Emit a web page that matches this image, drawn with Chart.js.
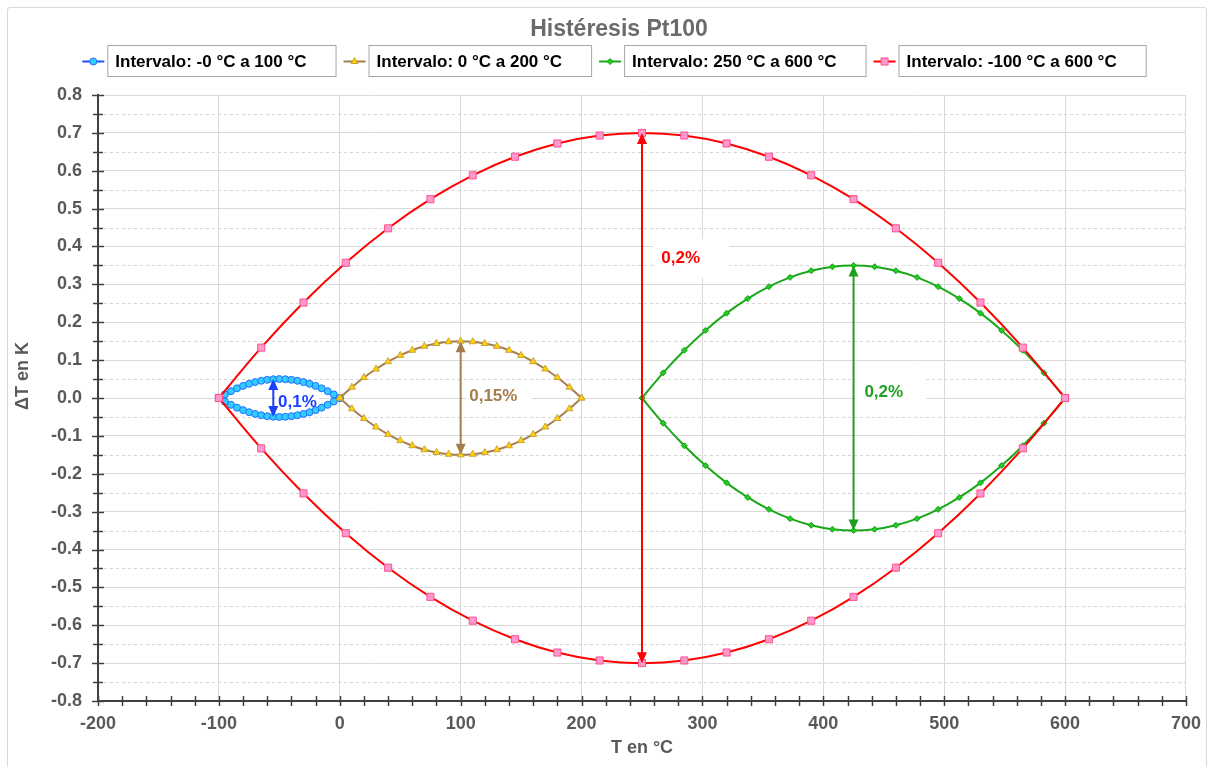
<!DOCTYPE html>
<html>
<head>
<meta charset="utf-8">
<title>Histéresis Pt100</title>
<script src="https://cdn.jsdelivr.net/npm/chart.js@4.4.1/dist/chart.umd.min.js"></script>
<style>
  html, body { margin: 0; padding: 0; background: #fff; overflow: hidden; }
  #frame { position: absolute; left: 7px; top: 7px; width: 1198px; height: 800px; border: 1px solid #d9d9d9; border-radius: 3px; }
  #chart { position: absolute; left: 0; top: 0; }
</style>
</head>
<body>
<div id="frame"></div>
<canvas id="chart" width="1213" height="767"></canvas>
<script>

//////////////////////Data////////////////
var xBlue = [-100, -95, -90, -85, -80, -75, -70, -65, -60, -55, -50, -45, -40, -35, -30, -25, -20, -15, -10, -5, 0];
var yBlueUpper = [0, 0.0095, 0.018, 0.0255, 0.032, 0.0375, 0.042, 0.0455, 0.048, 0.0495, 0.05, 0.0495, 0.048, 0.0455, 0.042, 0.0375, 0.032, 0.0255, 0.018, 0.0095, 0];
var yBlueLower = [0, -0.0095, -0.018, -0.0255, -0.032, -0.0375, -0.042, -0.0455, -0.048, -0.0495, -0.05, -0.0495, -0.048, -0.0455, -0.042, -0.0375, -0.032, -0.0255, -0.018, -0.0095, 0];

var xBrown = [0, 10, 20, 30, 40, 50, 60, 70, 80, 90, 100, 110, 120, 130, 140, 150, 160, 170, 180, 190, 200];
var yBrownUpper = [0, 0.0285, 0.054, 0.0765, 0.096, 0.1125, 0.126, 0.1365, 0.144, 0.1485, 0.15, 0.1485, 0.144, 0.1365, 0.126, 0.1125, 0.096, 0.0765, 0.054, 0.0285, 0];
var yBrownLower = [0, -0.0285, -0.054, -0.0765, -0.096, -0.1125, -0.126, -0.1365, -0.144, -0.1485, -0.15, -0.1485, -0.144, -0.1365, -0.126, -0.1125, -0.096, -0.0765, -0.054, -0.0285, 0];

var xGreen = [250, 267.5, 285, 302.5, 320, 337.5, 355, 372.5, 390, 407.5, 425, 442.5, 460, 477.5, 495, 512.5, 530, 547.5, 565, 582.5, 600];
var yGreenUpper = [0, 0.0665, 0.126, 0.1785, 0.224, 0.2625, 0.294, 0.3185, 0.336, 0.3465, 0.35, 0.3465, 0.336, 0.3185, 0.294, 0.2625, 0.224, 0.1785, 0.126, 0.0665, 0];
var yGreenLower = [0, -0.0665, -0.126, -0.1785, -0.224, -0.2625, -0.294, -0.3185, -0.336, -0.3465, -0.35, -0.3465, -0.336, -0.3185, -0.294, -0.2625, -0.224, -0.1785, -0.126, -0.0665, 0];

var xRed = [-100, -65, -30, 5, 40, 75, 110, 145, 180, 215, 250, 285, 320, 355, 390, 425, 460, 495, 530, 565, 600];
var yRedUpper = [0, 0.133, 0.252, 0.357, 0.448, 0.525, 0.588, 0.637, 0.672, 0.693, 0.70, 0.693, 0.672, 0.637, 0.588, 0.525, 0.448, 0.357, 0.252, 0.133, 0];
var yRedLower = [0, -0.133, -0.252, -0.357, -0.448, -0.525, -0.588, -0.637, -0.672, -0.693, -0.70, -0.693, -0.672, -0.637, -0.588, -0.525, -0.448, -0.357, -0.252, -0.133, 0];

var legendLabels = ['Intervalo: -0 °C a 100 °C', 'Intervalo: 0 °C a 200 °C', 'Intervalo: 250 °C a 600 °C', 'Intervalo: -100 °C a 600 °C'];

// spans marked by double arrows
var arrowX = [-55, 100, 250, 425];
var arrowTop = [0.05, 0.15, 0.70, 0.35];
var arrowBottom = [-0.05, -0.15, -0.70, -0.35];
var spanLabels = ['0,1%', '0,15%', '0,2%', '0,2%'];
var spanLabelX = [-35, 127, 282, 450];
var spanLabelY = [-0.011, 0.004, 0.369, 0.016];
//////////////////////////////////////////

var FONT = "'Liberation Sans', Arial, Helvetica, sans-serif";
var GREY = '#595959';

var styles = [
    { line: '#1f4fff', fill: '#33ccff', edge: '#1f6fff', shape: 'circle', radius: 3.5 },
    { line: '#a67d4f', fill: '#ffd400', edge: '#c9a13a', shape: 'triangle', radius: 4 },
    { line: '#1aa81a', fill: '#22cc22', edge: '#15a015', shape: 'rectRot', radius: 3 },
    { line: '#ff0000', fill: '#ff99cc', edge: '#ff4f8f', shape: 'rect', radius: 5 }
];
var arrowStyles = [
    { color: '#1a3fff', box: [2, 2, 22] },
    { color: '#a57c4c', box: [3, 14, 30] },
    { color: '#ff0000', box: [8, 29, 38] },
    { color: '#1f9f1f', box: [9, 23, 32] }
];

function points(xs, ys) {
    return xs.map((x, i) => ({ x: x, y: ys[i] }));
}

var seriesData = [
    [xBlue, yBlueUpper, yBlueLower],
    [xBrown, yBrownUpper, yBrownLower],
    [xGreen, yGreenUpper, yGreenLower],
    [xRed, yRedUpper, yRedLower]
];

var datasets = [];
seriesData.forEach(function (s, i) {
    var st = styles[i];
    [s[1], s[2]].forEach(function (ys, k) {
        datasets.push({
            label: k == 0 ? legendLabels[i] : legendLabels[i] + ' (b)',
            data: points(s[0], ys),
            showLine: true,
            tension: 0.4,
            borderColor: st.line,
            borderWidth: 2,
            pointStyle: st.shape,
            pointRadius: st.radius,
            pointBackgroundColor: st.fill,
            pointBorderColor: st.edge,
            pointBorderWidth: 1,
            order: 4 - i
        });
    });
});

function marker(ctx, st, x, y) {
    var r = st.radius;
    ctx.fillStyle = st.fill;
    ctx.strokeStyle = st.edge;
    ctx.lineWidth = 1;
    ctx.beginPath();
    if (st.shape == 'circle') {
        ctx.arc(x, y, r, 0, Math.PI * 2);
    } else if (st.shape == 'triangle') {
        ctx.moveTo(x, y - r);
        ctx.lineTo(x + r * 0.866, y + r * 0.5);
        ctx.lineTo(x - r * 0.866, y + r * 0.5);
        ctx.closePath();
    } else if (st.shape == 'rectRot') {
        ctx.moveTo(x, y - r); ctx.lineTo(x + r, y); ctx.lineTo(x, y + r); ctx.lineTo(x - r, y);
        ctx.closePath();
    } else {
        var h = r * Math.SQRT1_2;
        ctx.rect(x - h, y - h, 2 * h, 2 * h);
    }
    ctx.fill();
    ctx.stroke();
}

function labelFont() { return 'bold 17px ' + FONT; }

var decor = {
    id: 'decor',
    beforeDatasetsDraw: function (chart) {
        var ctx = chart.ctx, xs = chart.scales.x, ys = chart.scales.y, a = chart.chartArea;
        ctx.save();
        // dashed minor gridlines
        ctx.strokeStyle = '#d4d4d4';
        ctx.lineWidth = 1;
        ctx.setLineDash([3, 3]);
        for (var k = -15; k <= 15; k += 2) {
            var py = Math.round(ys.getPixelForValue(k * 0.05)) + 0.5;
            ctx.beginPath(); ctx.moveTo(a.left, py); ctx.lineTo(a.right, py); ctx.stroke();
        }
        ctx.setLineDash([]);
        // white backgrounds of the span labels
        ctx.font = labelFont();
        ctx.fillStyle = '#ffffff';
        spanLabels.forEach(function (t, i) {
            var w = ctx.measureText(t).width, b = arrowStyles[i].box;
            var cx = xs.getPixelForValue(spanLabelX[i]), cy = ys.getPixelForValue(spanLabelY[i]);
            ctx.fillRect(cx - w / 2 - b[0], cy - b[2] / 2, w + b[0] + b[1], b[2]);
        });
        // tick marks crossing the axes
        ctx.strokeStyle = '#404040';
        ctx.lineWidth = 1.5;
        for (var j = -16; j <= 16; j++) {
            var ty = Math.round(ys.getPixelForValue(j * 0.05)) + 0.5, len = j % 2 == 0 ? 6 : 5;
            ctx.beginPath(); ctx.moveTo(a.left - len, ty); ctx.lineTo(a.left + len, ty); ctx.stroke();
        }
        for (var v = -200; v <= 700; v += 20) {
            var tx = Math.round(xs.getPixelForValue(v)) + 0.5;
            ctx.beginPath(); ctx.moveTo(tx, a.bottom - 5); ctx.lineTo(tx, a.bottom + 5); ctx.stroke();
        }
        ctx.restore();
    },
    afterDatasetsDraw: function (chart) {
        var ctx = chart.ctx, xs = chart.scales.x, ys = chart.scales.y;
        ctx.save();
        arrowX.forEach(function (ax, i) {
            var c = arrowStyles[i].color;
            var px = xs.getPixelForValue(ax);
            var top = ys.getPixelForValue(arrowTop[i]);
            var bot = ys.getPixelForValue(arrowBottom[i]);
            var hl = 11, hw = 5;
            ctx.strokeStyle = c; ctx.fillStyle = c; ctx.lineWidth = 2;
            ctx.beginPath(); ctx.moveTo(px, top + hl - 1); ctx.lineTo(px, bot - hl + 1); ctx.stroke();
            ctx.beginPath(); ctx.moveTo(px, top); ctx.lineTo(px + hw, top + hl); ctx.lineTo(px - hw, top + hl); ctx.closePath(); ctx.fill();
            ctx.beginPath(); ctx.moveTo(px, bot); ctx.lineTo(px + hw, bot - hl); ctx.lineTo(px - hw, bot - hl); ctx.closePath(); ctx.fill();
            ctx.font = labelFont();
            ctx.textAlign = 'center';
            ctx.textBaseline = 'middle';
            ctx.fillText(spanLabels[i], xs.getPixelForValue(spanLabelX[i]), ys.getPixelForValue(spanLabelY[i]));
        });
        ctx.restore();
    },
    afterDraw: function (chart) {
        var ctx = chart.ctx;
        ctx.save();
        // title
        ctx.font = 'bold 23px ' + FONT;
        ctx.fillStyle = '#6b6b6b';
        ctx.textAlign = 'center';
        ctx.textBaseline = 'middle';
        ctx.fillText('Histéresis Pt100', 619, 30);
        // y axis title, placed a bit above the plot centre as in the original
        ctx.save();
        ctx.translate(23, 376);
        ctx.rotate(-Math.PI / 2);
        ctx.font = 'bold 18px ' + FONT;
        ctx.fillStyle = GREY;
        ctx.fillText('ΔT en K', 0, 0);
        ctx.restore();
        // legend with boxed entries
        ctx.font = 'bold 17px ' + FONT;
        var widths = legendLabels.map(t => ctx.measureText(t).width);
        var total = 0;
        widths.forEach(w => { total += 25 + w + 37 + 8; });
        total -= 8;
        var x = 614 - total / 2, cy = 61;
        legendLabels.forEach(function (t, i) {
            var st = styles[i];
            ctx.strokeStyle = st.line; ctx.lineWidth = 2;
            ctx.beginPath(); ctx.moveTo(x, cy + 0.5); ctx.lineTo(x + 22, cy + 0.5); ctx.stroke();
            marker(ctx, st, x + 11, cy + 0.5);
            var bx = x + 25, bw = widths[i] + 37;
            ctx.fillStyle = '#ffffff';
            ctx.fillRect(bx + 0.5, 45.5, bw, 31);
            ctx.strokeStyle = '#a6a6a6'; ctx.lineWidth = 1;
            ctx.strokeRect(bx + 0.5, 45.5, bw, 31);
            ctx.fillStyle = '#000000';
            ctx.textAlign = 'left';
            ctx.textBaseline = 'middle';
            ctx.fillText(t, bx + 8, cy + 1);
            x = bx + bw + 8;
        });
        ctx.restore();
    }
};

var chart = new Chart(document.getElementById('chart'), {
    type: 'scatter',
    data: { datasets: datasets },
    plugins: [decor],
    options: {
        responsive: false,
        animation: false,
        events: [],
        layout: { padding: { top: 95, left: 8, right: 26, bottom: 0 } },
        plugins: {
            legend: { display: false },
            title: { display: false },
            tooltip: { enabled: false }
        },
        scales: {
            x: {
                type: 'linear',
                min: -200,
                max: 700,
                afterFit: function (s) { s.height = 66; },
                ticks: {
                    stepSize: 100,
                    autoSkip: false,
                    padding: 12,
                    color: GREY,
                    font: { family: FONT, size: 18, weight: 'bold' },
                    callback: v => String(Math.round(v))
                },
                grid: { color: '#d9d9d9', lineWidth: 1, drawTicks: false },
                border: { color: '#404040', width: 2 },
                title: {
                    display: true,
                    text: 'T en °C',
                    color: GREY,
                    font: { family: FONT, size: 18, weight: 'bold' },
                    padding: { top: 0, bottom: 8 }
                }
            },
            y: {
                type: 'linear',
                min: -0.8,
                max: 0.8,
                afterFit: function (s) { s.width = 90; },
                ticks: {
                    stepSize: 0.1,
                    autoSkip: false,
                    padding: 16,
                    color: GREY,
                    font: { family: FONT, size: 18, weight: 'bold' },
                    callback: v => (Math.abs(v) < 1e-9 ? 0 : v).toFixed(1)
                },
                grid: { color: '#d9d9d9', lineWidth: 1, drawTicks: false },
                border: { color: '#404040', width: 2 }
            }
        }
    }
});
</script>
</body>
</html>
